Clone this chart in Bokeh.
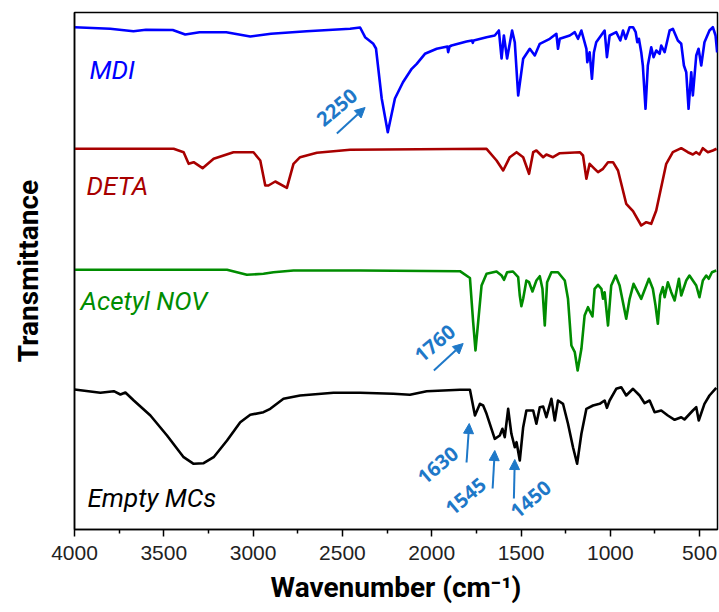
from bokeh.plotting import figure
from bokeh.models import Range1d, FixedTicker, Arrow, NormalHead, Label
from bokeh.embed import file_html
from bokeh.resources import INLINE

# ---------------- data (wavenumber in cm-1, transmittance in offset a.u.) -------------
mdi_wn = [4000, 3800, 3670, 3600, 3450, 3380, 3300, 3150, 3016, 2900, 2700, 2457, 2401,
          2373, 2327, 2312, 2280, 2246, 2206, 2161, 2112, 2084, 2038, 1972, 1912, 1908,
          1900, 1889, 1805, 1775, 1770, 1765, 1693, 1647, 1624, 1609, 1596, 1578, 1550,
          1535, 1516, 1488, 1451, 1423, 1395, 1339, 1302, 1293, 1283, 1227, 1199, 1181,
          1162, 1134, 1129, 1116, 1103, 1092, 1079, 1032, 1019, 1004, 967, 944, 929, 914,
          892, 873, 858, 849, 840, 827, 818, 803, 790, 771, 758, 743, 724, 715, 696, 668,
          650, 622, 603, 588, 575, 562, 547, 538, 519, 506, 491, 473, 445, 426, 411, 402]
mdi_t = [502.3, 500.7, 498.3, 499.7, 499.5, 495, 497.3, 497.3, 493, 495.7, 498.3, 500.7, 502,
         492.3, 485.7, 481, 431, 397.3, 431, 447.3, 460.7, 465.7, 475.7, 480.7, 483, 477.3,
         483, 484, 488, 489, 486.7, 489, 492.3, 494, 499, 471, 494, 471, 499,
         487.3, 434, 470.7, 480.7, 474, 485.7, 490.7, 495.7, 480.7, 490.7, 494, 497.3, 490.7,
         499, 480.7, 467.3, 477.3, 450.7, 477, 487.3, 499, 472.3, 494, 497.3, 489, 499, 490.7,
         502.3, 502.3, 497.3, 487.3, 490.7, 477.3, 464, 420.7, 464, 482.3, 472.3, 479, 475.7, 484, 477.3, 499,
         500.7, 489, 485.7, 464, 457.3, 420.7, 457.3, 434, 474, 480.7, 464, 487.3, 499, 502.3, 494, 477]

deta_wn = [4000, 3445, 3389, 3361, 3333, 3283, 3221, 3110, 2998, 2960, 2932, 2914, 2876,
           2811, 2774, 2737, 2643, 2457, 1693, 1637, 1600, 1563, 1525, 1488, 1455, 1432,
           1414, 1376, 1358, 1321, 1283, 1171, 1153, 1134, 1116, 1088, 1069, 1041, 1013,
           985, 957, 911, 873, 827, 799, 771, 743, 687, 650, 603, 566, 538, 519, 501, 482,
           454, 426, 405]
deta_t = [380.7, 380.7, 377.3, 365.7, 367.3, 361.3, 370.7, 377.3, 377.3, 369, 344, 344, 348,
          341.7, 365.7, 372.3, 376.7, 379.7, 380.7, 369, 359, 372.3, 377.3, 372.3, 355.7, 377.3,
          379, 372.3, 375, 372.3, 376.3, 377.3, 374, 350.7, 365.7, 360.7, 357.3, 360.7, 367.3,
          367.3, 359, 325.7, 318.3, 304, 307.3, 305.7, 319, 365.7, 377.3, 381.3, 377.3, 375, 377.3, 375, 381.3,
          377.3, 379, 380.7]

nov_wn = [4000, 3146, 3035, 2942, 2886, 2774, 2401, 1842, 1786, 1768, 1755, 1740, 1721,
          1693, 1637, 1609, 1595, 1578, 1545, 1516, 1507, 1498, 1488, 1470, 1455, 1436,
          1414, 1395, 1380, 1367, 1354, 1330, 1293, 1255, 1237, 1218, 1199, 1183, 1162,
          1144, 1125, 1112, 1100, 1088, 1069, 1050, 1041, 1032, 1013, 995, 970, 948, 911,
          892, 870, 827, 784, 762, 747, 734, 721, 706, 696, 678, 659, 640, 616, 603, 575,
          557, 519, 501, 482, 463, 449, 431, 407]
nov_t = [259.7, 259.7, 254.7, 255.7, 257.3, 259, 259, 258.3, 251.5, 207.3, 179, 207.3, 244,
         255.7, 258, 254, 249.7, 257.3, 258, 252.3, 234, 223.3, 230.7, 249, 247.3, 238,
         249, 253.3, 240.7, 204, 247.3, 257.3, 257.3, 249, 230.7, 184, 177.3, 159, 180.7,
         214, 222.3, 217.3, 213, 240.7, 244.7, 240.7, 230.7, 237.3, 204, 244, 254, 244, 210.7,
         230.7, 245.7, 230.7, 250.7, 240.7, 224, 205.7, 234, 242.3, 232.3, 247.3, 237.3, 229, 250.7, 234, 249,
         254, 244, 232.3, 249, 254, 250.7, 257.3, 259]

mc_wn = [4000, 3855, 3780, 3743, 3715, 3668, 3575, 3482, 3389, 3333, 3277, 3221, 3146,
         3072, 3016, 2942, 2904, 2830, 2737, 2550, 2401, 2215, 2122, 2028, 1842, 1786,
         1758, 1730, 1712, 1693, 1647, 1619, 1604, 1591, 1572, 1554, 1535, 1525, 1507,
         1488, 1470, 1432, 1414, 1395, 1376, 1358, 1330, 1311, 1293, 1265, 1237, 1209,
         1186, 1162, 1134, 1097, 1060, 1032, 1019, 1004, 967, 939, 911, 873, 836, 808, 780,
         752, 715, 678, 640, 603, 585, 538, 519, 505, 473, 445, 407]
mc_t = [140, 136.7, 138.3, 135, 137, 129, 114, 94, 72.3, 65.7, 66.3, 72.3, 89,
        107.3, 114.7, 117.3, 120.7, 130.7, 134, 136.7, 136.7, 135.7, 134.7, 138.3, 139.7, 139.7,
        114, 125.7, 124, 115.7, 90.7, 94, 100.7, 92.3, 120.7, 95.7, 82.3, 87.3, 69,
        102.3, 119, 119, 105.7, 122.3, 123, 112.3, 130.7, 109, 129, 125.7, 105.7, 82.3,
        65.7, 95.7, 120.7, 124, 125.7, 129, 121.7, 129, 140.7, 142.3, 134, 140.7, 134, 126.3, 129,
        117.3, 119, 114, 109.7, 112.3, 110, 119, 122.3, 109, 125.7, 134, 141.7]

series_names = ["MDI", "DETA", "Acetyl NOV", "Empty MCs"]
x_ticks = [500, 1000, 1500, 2000, 2500, 3000, 3500, 4000]
x_minor = [750, 1250, 1750, 2250, 2750, 3250, 3750]
x_title = "Wavenumber (cm\u207b\u00b9)"
y_title = "Transmittance"

peak_labels = ["2250", "1760", "1630", "1545", "1450"]

# ---------------- figure -------------
p = figure(width=719, height=612, output_backend="svg", toolbar_location=None,
           x_range=Range1d(4000, 400), y_range=Range1d(0, 517),
           min_border_left=74, min_border_right=2, min_border_top=12, min_border_bottom=83)
p.grid.visible = False
p.background_fill_color = "white"
p.border_fill_color = "white"
p.outline_line_color = "black"
p.outline_line_width = 1.5

colors = ["#0000FF", "#A80000", "#008C00", "#000000"]
for wn, t, c in zip([mdi_wn, deta_wn, nov_wn, mc_wn], [mdi_t, deta_t, nov_t, mc_t], colors):
    p.line(wn, t, line_color=c, line_width=2.6, line_join="round")

# x axis
xa = p.xaxis[0]
xa.ticker = FixedTicker(ticks=x_ticks, minor_ticks=x_minor)
xa.axis_label = x_title
xa.axis_label_text_font = "Roboto"
xa.axis_label_text_font_style = "bold"
xa.axis_label_text_font_size = "28px"
xa.axis_label_text_color = "black"
xa.axis_label_standoff = 8
xa.major_label_text_font = "Liberation Sans"
xa.major_label_text_font_size = "21px"
xa.major_label_text_color = "#222222"
xa.major_label_standoff = 9
xa.major_tick_out = 7
xa.major_tick_in = 0
xa.minor_tick_out = 4
xa.minor_tick_in = 0
xa.axis_line_width = 1.5
xa.major_tick_line_width = 1.5
xa.minor_tick_line_width = 1.5

# y axis
ya = p.yaxis[0]
ya.ticker = FixedTicker(ticks=[])
ya.major_tick_out = 0
ya.minor_tick_out = 0
ya.axis_label = y_title
ya.axis_label_text_font = "Roboto"
ya.axis_label_text_font_style = "bold"
ya.axis_label_text_font_size = "28px"
ya.axis_label_text_color = "black"
ya.axis_label_standoff = 30
ya.axis_line_width = 1.5

# series labels
label_pos = [(3916, 460), (3933, 344), (3966, 229), (3927, 32)]
for name, (lx, ly), c in zip(series_names, label_pos, colors):
    p.add_layout(Label(x=lx, y=ly, text=name, text_font="Roboto", text_font_style="italic",
                       text_font_size="26px", text_color=c, text_baseline="middle",
                       text_align="left"))

# peak annotations
ann_col = "#1E78C8"
text_pos = [(2530, 422), (1982, 186), (1965, 64), (1809, 33), (1445, 30)]
arrows = [((2531, 396), (2373, 422)), ((1988, 159), (1824, 186)),
          ((1805, 67), (1790, 106)), ((1659, 41), (1647, 79)), ((1540, 31), (1535, 70))]
for txt, (tx, ty), ((x0, y0), (x1, y1)) in zip(peak_labels, text_pos, arrows):
    p.add_layout(Label(x=tx, y=ty, text=txt, text_font="Open Sans", text_font_style="bold",
                       text_font_size="20px", text_color=ann_col, angle=0.70,
                       text_align="center", text_baseline="middle"))
    p.add_layout(Arrow(x_start=x0, y_start=y0, x_end=x1, y_end=y1,
                       line_color=ann_col, line_width=2,
                       end=NormalHead(size=10, fill_color=ann_col, line_color=ann_col)))

open("out.html", "w").write(file_html(p, INLINE))
